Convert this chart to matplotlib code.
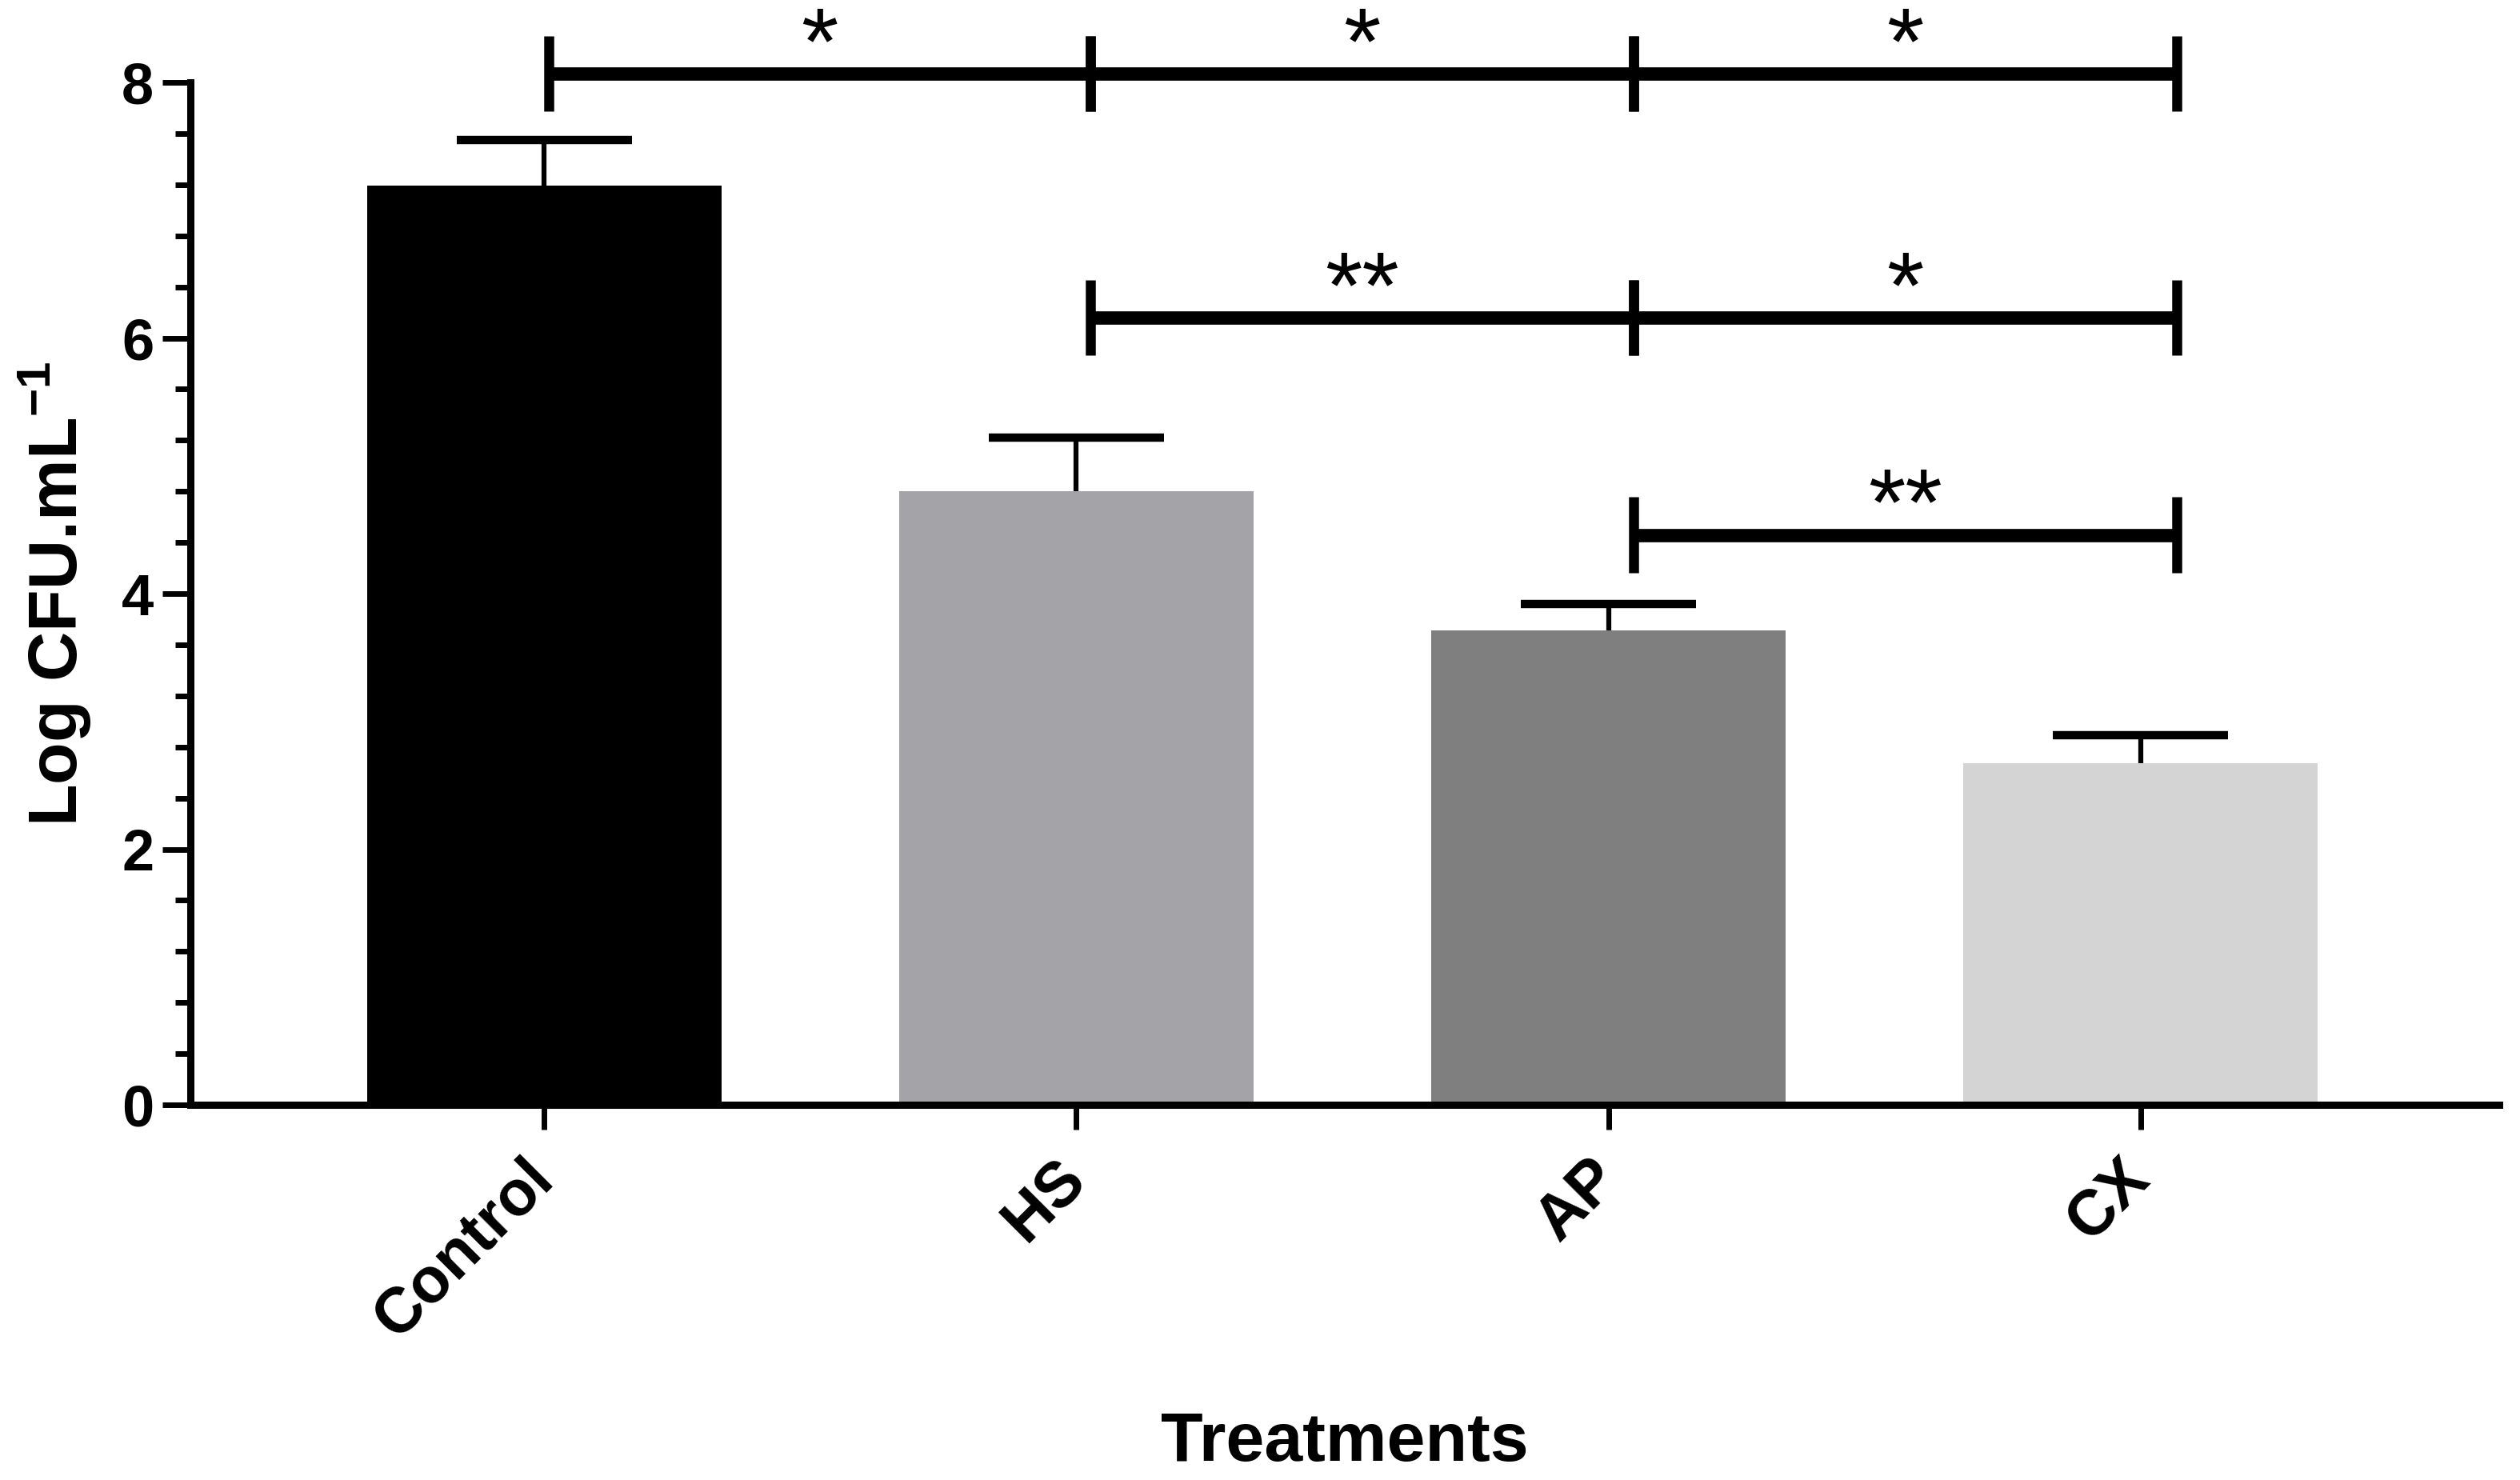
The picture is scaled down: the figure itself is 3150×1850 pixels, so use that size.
import matplotlib
matplotlib.use("Agg")
import matplotlib.pyplot as plt
from matplotlib.ticker import MultipleLocator

plt.rcParams['font.family'] = ['Liberation Sans', 'DejaVu Sans']
plt.rcParams['font.weight'] = 'bold'
plt.rcParams['mathtext.fontset'] = 'custom'
plt.rcParams['mathtext.rm'] = 'Liberation Sans:bold'
plt.rcParams['mathtext.bf'] = 'Liberation Sans:bold'

categories = ["Control", "HS", "AP", "CX"]
means = [7.19, 4.80, 3.71, 2.67]
errors = [0.36, 0.42, 0.21, 0.22]
bar_colors = ["#000000", "#a4a4a8", "#7f7f7f", "#d4d4d4"]

# significance brackets: (from index, to index, height, label)
bracket_x = [0.008, 1.027, 2.047, 3.068]
brackets = [
    (0, 1, 8.07, "*"),
    (1, 2, 8.07, "*"),
    (2, 3, 8.07, "*"),
    (1, 2, 6.16, "**"),
    (2, 3, 6.16, "*"),
    (2, 3, 4.46, "**"),
]

fig = plt.figure(figsize=(31.5, 18.5), dpi=100)
ax = fig.add_axes([0.0756, 0.2535, 0.9161, 0.6908])

x = list(range(len(categories)))
ax.bar(x, means, width=0.665, color=bar_colors, zorder=2)
# error bars (upper only)
tops = [m + e for m, e in zip(means, errors)]
ax.vlines(x, means, tops, color="black", linewidth=4.5, zorder=3)
ax.hlines(tops, [xi - 0.165 for xi in x], [xi + 0.165 for xi in x],
          color="black", linewidth=7.5, zorder=3)

for i0, i1, h, lab in brackets:
    xa, xb = bracket_x[i0], bracket_x[i1]
    ax.plot([xa, xb], [h, h], color="black", linewidth=12, clip_on=False,
            solid_capstyle="butt", zorder=4)
    ax.vlines([xa, xb], h - 0.295, h + 0.295, color="black", linewidth=9,
              clip_on=False, zorder=4)
    ax.text((xa + xb) / 2, h + 0.0, lab, ha="center", va="baseline",
            fontsize=86, fontweight="normal", clip_on=False)

ax.set_xlim(-0.665, 3.674)
ax.set_ylim(0, 8)
ax.yaxis.set_major_locator(MultipleLocator(2))
ax.yaxis.set_minor_locator(MultipleLocator(0.4))

for s in ["top", "right"]:
    ax.spines[s].set_visible(False)
for s in ["left", "bottom"]:
    ax.spines[s].set_linewidth(6.5)
    ax.spines[s].set_zorder(5)

ax.tick_params(axis="y", which="major", length=25, width=5, labelsize=52, pad=8)
ax.tick_params(axis="y", which="minor", length=14, width=5)
ax.tick_params(axis="x", which="major", length=22, width=5, labelsize=57, pad=36)

ax.set_xticks(x)
ax.set_xticklabels(categories, rotation=45, ha="right", va="center",
                   rotation_mode="anchor", fontweight="bold")
for lab in ax.get_yticklabels():
    lab.set_fontweight("bold")

ax.set_ylabel("Log CFU.mL$^{\\mathbf{-1}}$", fontsize=62, fontweight="bold")
ax.set_xlabel("Treatments", fontsize=62, fontweight="bold")
ax.xaxis.set_label_coords(0.5, -0.300)
ax.yaxis.set_label_coords(-0.042, 0.5)

fig.savefig("out.png", dpi=100, facecolor="white")
